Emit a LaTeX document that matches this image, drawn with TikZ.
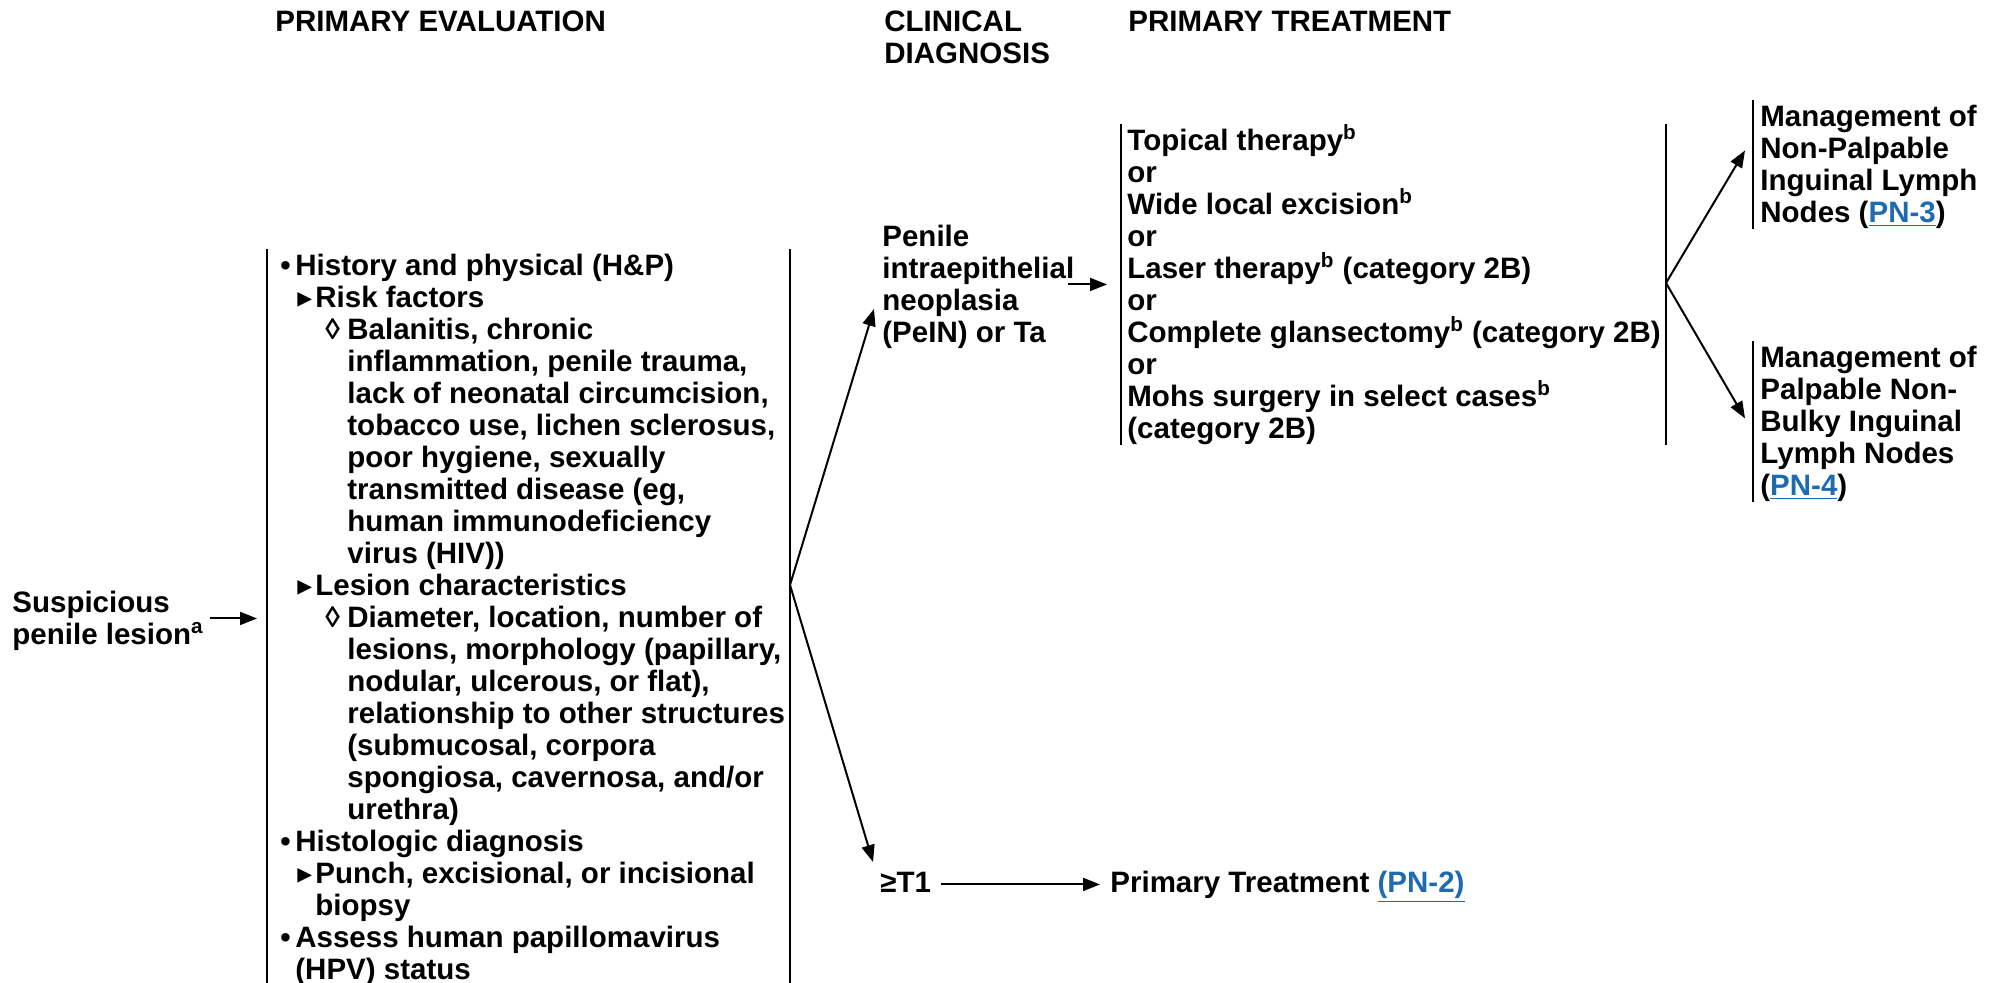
\documentclass[tikz,border=0pt]{standalone}
\usepackage{fontspec}
\setmainfont{Liberation Sans}
\newfontfamily\symfont{DejaVu Sans}
\usepackage{tikz}
\usetikzlibrary{arrows.meta}

\definecolor{linkblue}{HTML}{1F6BB0}

% first line height, so that node tops sit at a fixed distance from the baseline
\newcommand{\topline}{\rule{0pt}{13pt}}
% list levels of the evaluation column
\newcommand{\lvone}{\makebox[7.5pt][l]{•}}
\newcommand{\lvtwo}{\hspace*{8.5pt}\makebox[9pt][l]{{\symfont ▸}}}
\newcommand{\lvthree}{\hspace*{22.5pt}\makebox[11pt][l]{◊}}
\newcommand{\pnlink}[1]{{\color{linkblue}\underline{#1}}}

\begin{document}
\begin{tikzpicture}[x=0.5pt, y=-0.5pt,
    txt/.style={anchor=north west, inner sep=0pt, align=left,
      font=\fontsize{14.75}{16}\selectfont\bfseries},
    bar/.style={line width=1pt},
    arr/.style={line width=1pt, -{Triangle[length=8.5pt,width=6.5pt]}}]

    \useasboundingbox (0,0) rectangle (1997,983);

    % Column headers
    \node[txt] (hdrEval) at (275,5) {\topline PRIMARY EVALUATION};
    \node[txt] (hdrDiag) at (884,5) {\topline CLINICAL\\DIAGNOSIS};
    \node[txt] (hdrTreat) at (1128,5) {\topline PRIMARY TREATMENT};

    % Start and evaluation
    \node[txt] (susp) at (12,586) {\topline Suspicious\\penile lesion\textsuperscript{a}};
    \node[txt] (eval) at (280,249) {\topline\lvone History and physical (H\&P)\\
      \lvtwo Risk factors\\
      \lvthree Balanitis, chronic\\
      \hspace*{33.5pt}inflammation, penile trauma,\\
      \hspace*{33.5pt}lack of neonatal circumcision,\\
      \hspace*{33.5pt}tobacco use, lichen sclerosus,\\
      \hspace*{33.5pt}poor hygiene, sexually\\
      \hspace*{33.5pt}transmitted disease (eg,\\
      \hspace*{33.5pt}human immunodeficiency\\
      \hspace*{33.5pt}virus (HIV))\\
      \lvtwo Lesion characteristics\\
      \lvthree Diameter, location, number of\\
      \hspace*{33.5pt}lesions, morphology (papillary,\\
      \hspace*{33.5pt}nodular, ulcerous, or flat),\\
      \hspace*{33.5pt}relationship to other structures\\
      \hspace*{33.5pt}(submucosal, corpora\\
      \hspace*{33.5pt}spongiosa, cavernosa, and/or\\
      \hspace*{33.5pt}urethra)\\
      \lvone Histologic diagnosis\\
      \lvtwo Punch, excisional, or incisional\\
      \hspace*{17.5pt}biopsy\\
      \lvone Assess human papillomavirus\\
      \hspace*{7.5pt}(HPV) status};

    % Clinical diagnosis
    \node[txt] (pein) at (882,220) {\topline Penile\\intraepithelial\\neoplasia\\(PeIN) or Ta};
    \node[txt] (t1) at (880,866) {\topline ≥T1};

    % Primary treatment
    \node[txt] (treat) at (1127,124) {\topline Topical therapy\textsuperscript{b}\\or\\
      Wide local excision\textsuperscript{b}\\or\\
      Laser therapy\textsuperscript{b} (category 2B)\\or\\
      Complete glansectomy\textsuperscript{b} (category 2B)\\or\\
      Mohs surgery in select cases\textsuperscript{b}\\(category 2B)};
    \node[txt] (prim) at (1110,866) {\topline Primary Treatment \pnlink{(PN-2)}};

    % Lymph node management
    \node[txt] (np) at (1760,100) {\topline Management of\\Non-Palpable\\Inguinal Lymph\\Nodes (\pnlink{PN-3})};
    \node[txt] (pal) at (1760,341) {\topline Management of\\Palpable Non-\\Bulky Inguinal\\Lymph Nodes\\(\pnlink{PN-4})};

    % Split points
    \coordinate (evOut) at (790,585);
    \coordinate (trOut) at (1666,283);

    % Bars
    \draw[bar] ([xshift=-6.5pt]eval.north west) -- ([xshift=-6.5pt]eval.south west);
    \draw[bar] (evOut |- eval.north) -- (evOut |- eval.south);
    \draw[bar] ([xshift=-3pt]treat.north west) -- ([xshift=-3pt]treat.south west);
    \draw[bar] (trOut |- treat.north) -- (trOut |- treat.south);
    \draw[bar] ([xshift=-3.5pt]np.north west) -- ([xshift=-3.5pt]np.south west);
    \draw[bar] ([xshift=-3.5pt]pal.north west) -- ([xshift=-3.5pt]pal.south west);

    % Arrows
    \draw[arr] ([xshift=3pt]susp.east) -- ([xshift=-11.5pt]susp.east -| eval.west);
    \draw[arr] (evOut) -- ([shift={(-8,-40)}]pein.south west);
    \draw[arr] (evOut) -- ([shift={(-7,-4)}]t1.north west);
    \draw[arr] ([xshift=-3.5pt]pein.east) -- ([xshift=-10pt]treat.west |- pein.east);
    \draw[arr] ([xshift=5pt]t1.east |- prim.west) -- ([xshift=-5pt]prim.west);
    \draw[arr] (trOut) -- ([shift={(-15,-14)}]np.west);
    \draw[arr] (trOut) -- ([shift={(-15,-3)}]pal.west);

\end{tikzpicture}
\end{document}
